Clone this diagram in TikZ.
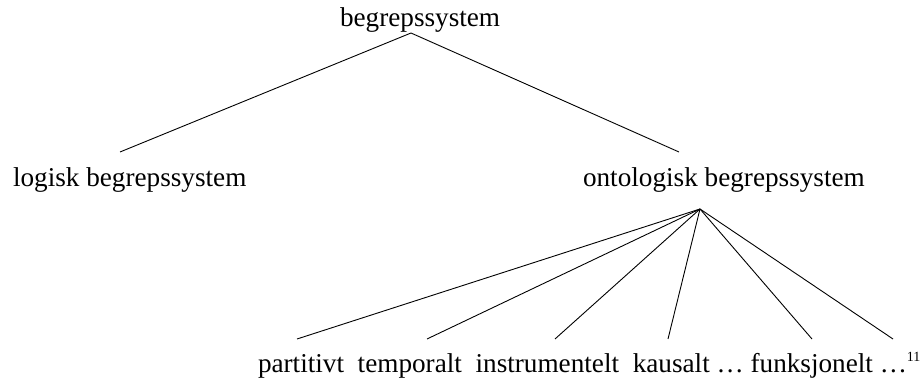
\documentclass[tikz,border=0pt]{standalone}
\usepackage{fontspec}
\setmainfont{Liberation Serif}
\begin{document}
\begin{tikzpicture}[x=1pt,y=-1pt,
  lbl/.style={anchor=base west,inner sep=0pt,outer sep=0pt,font=\fontsize{27.2}{30}\selectfont},
  edge/.style={line width=0.9pt,black}]
\useasboundingbox (0,0) rectangle (922,382);
% labels
\node[lbl] (top) at (340,27) {begrepssystem};
\node[lbl] (log) at (13,187) {logisk begrepssystem};
\node[lbl] (ont) at (583,187) {ontologisk begrepssystem};
\node[lbl] (row) at (258,373) {partitivt\ \ temporalt\ \ instrumentelt\ \ kausalt … funksjonelt …\raisebox{11pt}{\fontsize{14}{14}\selectfont 11}};
% connector points
\coordinate (topA) at (411,33);
\coordinate (logE) at (120,152);
\coordinate (ontE) at (679,152);
\coordinate (fan) at (700,209);
\coordinate (e1) at (297,339);
\coordinate (e2) at (427,339);
\coordinate (e3) at (555,339);
\coordinate (e4) at (668,339);
\coordinate (e5) at (812,339);
\coordinate (e6) at (893,339);
% connectors
\draw[edge] (logE) -- (topA) -- (ontE);
\foreach \e in {e1,e2,e3,e4,e5,e6} \draw[edge] (fan) -- (\e);
\end{tikzpicture}
\end{document}
